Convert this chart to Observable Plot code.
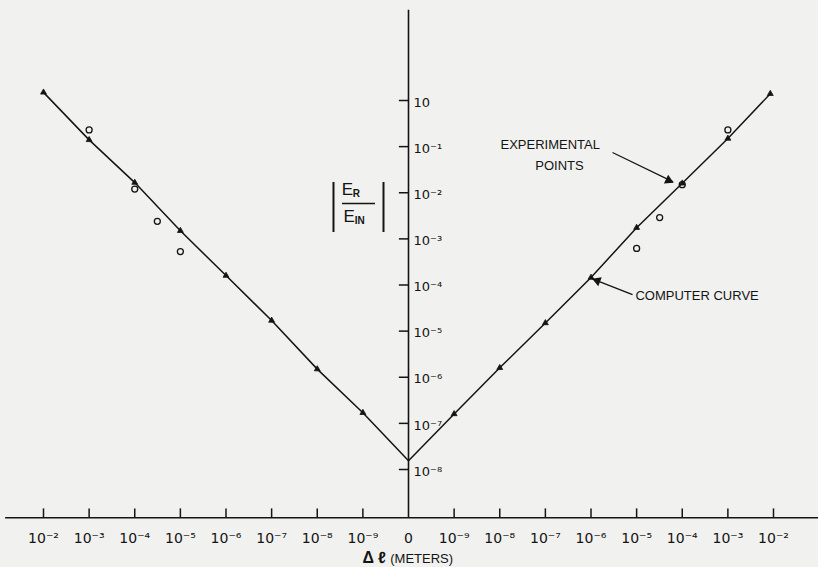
<!DOCTYPE html>
<html>
<head>
<meta charset="utf-8">
<script src="https://cdn.jsdelivr.net/npm/d3@7"></script>
<script src="https://cdn.jsdelivr.net/npm/@observablehq/plot@0.6"></script>
<style>
  html, body { margin: 0; padding: 0; background: #f1f1ef; }
  #chart svg { display: block; }
</style>
</head>
<body>
<div id="chart"></div>
<script>
// ---- Axis definitions (x = decade position: left half -8..-1, centre 0, right half 1..8)
const xTickPositions = [-8, -7, -6, -5, -4, -3, -2, -1, 0, 1, 2, 3, 4, 5, 6, 7, 8];
const xTickLabels = ["10⁻²", "10⁻³", "10⁻⁴", "10⁻⁵", "10⁻⁶", "10⁻⁷", "10⁻⁸", "10⁻⁹", "0",
                     "10⁻⁹", "10⁻⁸", "10⁻⁷", "10⁻⁶", "10⁻⁵", "10⁻⁴", "10⁻³", "10⁻²"];
const yTickValues = [1, 1e-1, 1e-2, 1e-3, 1e-4, 1e-5, 1e-6, 1e-7, 1e-8];
const yTickLabels = ["10", "10⁻¹", "10⁻²", "10⁻³", "10⁻⁴", "10⁻⁵", "10⁻⁶", "10⁻⁷", "10⁻⁸"];

// ---- Computer curve (Δl in metres, |E_R/E_IN|)
const leftDl    = [1e-2, 1e-3, 1e-4, 1e-5, 1e-6, 1e-7, 1e-8, 1e-9];
const leftCurve = [1.5, 0.14, 0.0166, 1.5e-3, 1.6e-4, 1.7e-5, 1.5e-6, 1.7e-7];
const vertexCurve = 1.55e-8;   // at Δl = 0
const rightDl    = [1e-9, 1e-8, 1e-7, 1e-6, 1e-5, 1e-4, 1e-3, 8.5e-3];
const rightCurve = [1.6e-7, 1.6e-6, 1.5e-5, 1.45e-4, 1.75e-3, 1.6e-2, 0.15, 1.4];

// ---- Experimental points
const expLeftDl  = [1e-3, 1e-4, 3.2e-5, 1e-5];
const expLeft    = [0.23, 0.012, 2.4e-3, 5.3e-4];
const expRightDl = [1e-5, 3.2e-5, 1e-4, 1e-3];
const expRight   = [6.2e-4, 2.9e-3, 0.015, 0.23];

// ---- Axis line extents (data units)
const yAxisBottom = 9.0e-10, yAxisTop = 90, xTickTop = 1.4e-9;
const xAxisLeft = -8.83, xAxisRight = 9.0, yTickLeft = -0.2;

const pos = (side, dl) => dl === 0 ? 0 : side * (10 + Math.log10(dl));

const curve = [
  ...leftDl.map((d, i) => ({x: pos(-1, d), y: leftCurve[i]})),
  {x: pos(0, 0), y: vertexCurve},
  ...rightDl.map((d, i) => ({x: pos(1, d), y: rightCurve[i]}))
];
const experimental = [
  ...expLeftDl.map((d, i) => ({x: pos(-1, d), y: expLeft[i]})),
  ...expRightDl.map((d, i) => ({x: pos(1, d), y: expRight[i]}))
];

const ink = "#141414";
const tickFont = "DejaVu Sans, sans-serif";
const letterFont = "Liberation Sans, Arial, sans-serif";

const chart = Plot.plot({
  width: 818,
  height: 567,
  marginLeft: 43,
  marginRight: 45,
  marginTop: 100,
  marginBottom: 98,
  x: {domain: [-8, 8], axis: null},
  y: {type: "log", domain: [1e-8, 1], axis: null},
  style: {background: "transparent", color: ink, fontFamily: letterFont},
  marks: [
    // axes
    Plot.ruleY([yAxisBottom], {x1: xAxisLeft, x2: xAxisRight, stroke: ink, strokeWidth: 1.6}),
    Plot.ruleX([0], {y1: yAxisBottom, y2: yAxisTop, stroke: ink, strokeWidth: 1.6}),
    Plot.ruleX(xTickPositions.filter(d => d !== 0), {y1: yAxisBottom, y2: xTickTop, stroke: ink, strokeWidth: 1.5}),
    Plot.text(xTickPositions, {x: d => d, y: () => yAxisBottom, text: (d, i) => xTickLabels[i],
      dy: 21, fontSize: 14, fontFamily: tickFont, fill: ink}),
    Plot.ruleY(yTickValues, {x1: yTickLeft, x2: 0, stroke: ink, strokeWidth: 1.5}),
    Plot.text(yTickValues, {x: () => 0, y: d => d, text: (d, i) => yTickLabels[i],
      dx: 5, dy: 2, textAnchor: "start", fontSize: 13, fontFamily: tickFont, fill: ink}),

    // computer curve + markers
    Plot.line(curve, {x: "x", y: "y", stroke: ink, strokeWidth: 1.5}),
    Plot.dot(curve.filter(d => d.x !== 0), {x: "x", y: "y", symbol: "triangle", r: 2.2, fill: ink, stroke: ink, strokeWidth: 0.8}),

    // experimental points
    Plot.dot(experimental, {x: "x", y: "y", r: 3, fill: "none", stroke: ink, strokeWidth: 1.3}),

    // y-axis label |E_R / E_IN|
    Plot.ruleX([-1.644, -0.548], {y1: 1.374e-3, y2: 0.01667, stroke: ink, strokeWidth: 2}),
    Plot.ruleY([5.85e-3], {x1: -1.447, x2: -0.723, stroke: ink, strokeWidth: 1.4}),
    Plot.text(["E"], {x: -1.34, y: 0.0118, text: d => d, fontSize: 17, fill: ink}),
    Plot.text(["R"], {x: -1.22, y: 9.6e-3, text: d => d, textAnchor: "start", fontSize: 10, fontWeight: "bold", fill: ink}),
    Plot.text(["E"], {x: -1.30, y: 3.05e-3, text: d => d, fontSize: 17, fill: ink}),
    Plot.text(["IN"], {x: -1.18, y: 2.5e-3, text: d => d, textAnchor: "start", fontSize: 10, fontWeight: "bold", fill: ink}),

    // x-axis title
    Plot.text(["Δ ℓ"], {x: -1.01, y: () => yAxisBottom, text: d => d, dy: 40, textAnchor: "start", fontSize: 16, fontWeight: "bold", fill: ink}),
    Plot.text(["(METERS)"], {x: -0.40, y: () => yAxisBottom, text: d => d, dy: 41, textAnchor: "start", fontSize: 13, letterSpacing: 2, fill: ink}),

    // annotations
    Plot.text(["EXPERIMENTAL"], {x: 2.016, y: 0.111, text: d => d, textAnchor: "start", fontSize: 13, letterSpacing: 1.2, fill: ink}),
    Plot.text(["POINTS"], {x: 2.78, y: 0.0389, text: d => d, textAnchor: "start", fontSize: 13, letterSpacing: 0.6, fill: ink}),
    Plot.link([0], {x1: 4.471, y1: 0.0745, x2: 5.80, y2: 0.0172, stroke: ink, strokeWidth: 1.2}),
    Plot.dot([0], {x: 5.70, y: 0.0186, symbol: "triangle", r: 3.6, fill: ink, rotate: 116}),
    Plot.text(["COMPUTER CURVE"], {x: 4.975, y: 5.89e-5, text: d => d, textAnchor: "start", fontSize: 13, letterSpacing: 1, fill: ink}),
    Plot.link([0], {x1: 4.91, y1: 6.19e-5, x2: 4.03, y2: 1.36e-4, stroke: ink, strokeWidth: 1.4}),
    Plot.dot([0], {x: 4.14, y: 1.24e-4, symbol: "triangle", r: 3.6, fill: ink, rotate: -69})
  ]
});
document.getElementById("chart").appendChild(chart);
</script>
</body>
</html>
